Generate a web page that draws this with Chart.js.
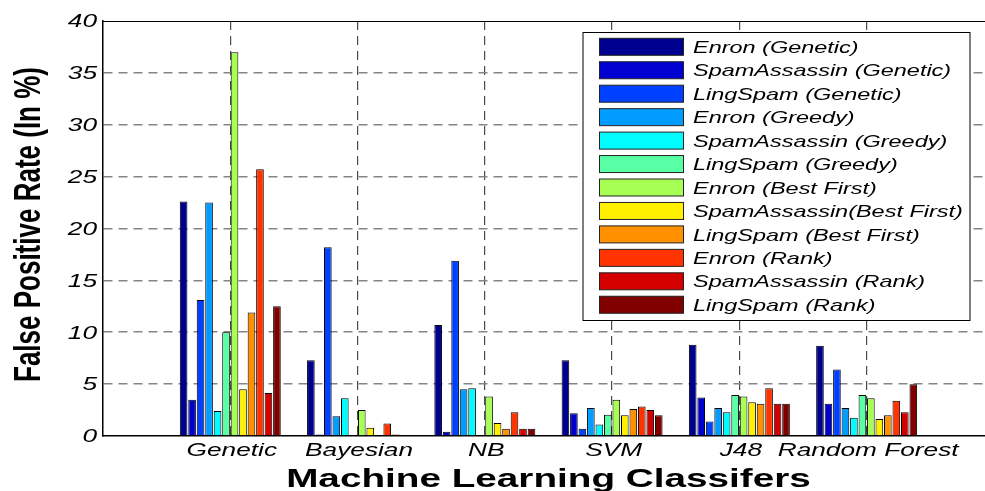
<!DOCTYPE html>
<html>
<head>
<meta charset="utf-8">
<title>False Positive Rate by Classifier</title>
<script src="https://cdn.jsdelivr.net/npm/chart.js@4/dist/chart.umd.min.js"></script>
<style>
  html, body { margin: 0; padding: 0; background: #fff; }
  #wrap { width: 985px; height: 491px; }
</style>
</head>
<body>
<div id="wrap"><canvas id="chart" width="985" height="491"></canvas></div>
<script>
// Classifiers on the x axis
const categories = ['Genetic', 'Bayesian', 'NB', 'SVM', 'J48', 'Random Forest'];

// y axis ticks (false positive rate, %)
const yTicks = [0, 5, 10, 15, 20, 25, 30, 35, 40];

// Series names (dataset + feature selection method)
const seriesNames = [
  'Enron (Genetic)', 'SpamAssassin (Genetic)', 'LingSpam (Genetic)',
  'Enron (Greedy)', 'SpamAssassin (Greedy)', 'LingSpam (Greedy)',
  'Enron (Best First)', 'SpamAssassin(Best First)', 'LingSpam (Best First)',
  'Enron (Rank)', 'SpamAssassin (Rank)', 'LingSpam (Rank)'
];

// False positive rate per classifier, one array per series
const enronGenetic        = [22.6, 7.3, 10.7, 7.3, 8.8, 8.7];
const spamAssassinGenetic = [3.5, 0.15, 0.4, 2.2, 3.7, 3.1];
const lingSpamGenetic     = [13.1, 18.2, 16.9, 0.7, 1.4, 6.4];
const enronGreedy         = [22.5, 1.9, 4.5, 2.7, 2.7, 2.7];
const spamAssassinGreedy  = [2.4, 3.65, 4.6, 1.1, 2.3, 1.75];
const lingSpamGreedy      = [10.0, 0, 0, 2.05, 3.95, 3.95];
const enronBestFirst      = [37.0, 2.5, 3.8, 3.5, 3.8, 3.65];
const spamAssassinBestFirst = [4.5, 0.8, 1.25, 2.0, 3.25, 1.65];
const lingSpamBestFirst   = [11.9, 0, 0.7, 2.6, 3.1, 2.0];
const enronRank           = [25.7, 1.2, 2.3, 2.85, 4.6, 3.4];
const spamAssassinRank    = [4.15, 0.15, 0.7, 2.5, 3.1, 2.3];
const lingSpamRank        = [12.5, 0, 0.7, 2.0, 3.1, 5.0];

const seriesValues = [
  enronGenetic, spamAssassinGenetic, lingSpamGenetic,
  enronGreedy, spamAssassinGreedy, lingSpamGreedy,
  enronBestFirst, spamAssassinBestFirst, lingSpamBestFirst,
  enronRank, spamAssassinRank, lingSpamRank
];

// jet-style palette, dark blue through dark red
const palette = [
  '#000090', '#0000D0', '#0040FF', '#009CFF', '#00FCFF', '#58FFA4',
  '#A8FF54', '#FFF000', '#FF9000', '#FF3400', '#D40000', '#800000'
];

const datasets = seriesNames.map((name, s) => ({
  label: name,
  data: seriesValues[s].map((v, i) => ({ x: i + 1, y: v })),
  backgroundColor: palette[s],
  borderColor: '#000000',
  borderWidth: 1,
  categoryPercentage: 0.8,
  barPercentage: 0.9
}));

// Draws text stretched horizontally by sx
function stretchedText(ctx, text, x, y, font, sx, align) {
  ctx.save();
  ctx.translate(x, y);
  ctx.scale(sx, 1);
  ctx.font = font;
  ctx.fillStyle = '#000';
  ctx.textAlign = align;
  ctx.textBaseline = 'alphabetic';
  ctx.fillText(text, 0, 0);
  ctx.restore();
}

const LABEL_FONT = 'italic 17.5px "Liberation Sans", Arial, sans-serif';
const TITLE_FONT = 'bold 26.5px "Liberation Sans", Arial, sans-serif';
const LEGEND_FONT = 'italic 17px "Liberation Sans", Arial, sans-serif';

const decorations = {
  id: 'decorations',
  afterDraw(chart) {
    const { ctx, chartArea, scales } = chart;
    const xs = scales.x, ys = scales.y;

    // top frame line
    ctx.save();
    ctx.strokeStyle = '#000';
    ctx.lineWidth = 1.2;
    ctx.beginPath();
    ctx.moveTo(chartArea.left, Math.round(chartArea.top) + 0.5);
    ctx.lineTo(chartArea.right, Math.round(chartArea.top) + 0.5);
    ctx.stroke();
    ctx.restore();

    // y tick labels
    yTicks.forEach(v => {
      const py = ys.getPixelForValue(v);
      stretchedText(ctx, String(v), 97, py + 6.3, LABEL_FONT, 1.5, 'right');
    });

    // category labels
    categories.forEach((c, i) => {
      const px = xs.getPixelForValue(i + 1);
      stretchedText(ctx, c, px + 1.5, 456, LABEL_FONT, 1.5, 'center');
    });

    // x axis title, centred on the full axis span
    stretchedText(ctx, 'Machine Learning Classifers', xs.getPixelForValue(3.5), 487,
      TITLE_FONT, 1.46, 'center');

    // y axis title (rotated, glyphs widened across the axis)
    ctx.save();
    ctx.translate(40, 224.5);
    ctx.rotate(-Math.PI / 2);
    ctx.scale(1, 1.42);
    ctx.font = 'bold 26px "Liberation Sans", Arial, sans-serif';
    ctx.fillStyle = '#000';
    ctx.textAlign = 'center';
    ctx.textBaseline = 'alphabetic';
    ctx.fillText('False Positive Rate (In %)', 0, 0);
    ctx.restore();

    // legend box
    const box = { left: 583, top: 32.5, right: 970, bottom: 320.5 };
    ctx.save();
    ctx.fillStyle = '#fff';
    ctx.fillRect(box.left, box.top, box.right - box.left, box.bottom - box.top);
    ctx.strokeStyle = '#000';
    ctx.lineWidth = 1;
    ctx.strokeRect(box.left, box.top, box.right - box.left, box.bottom - box.top);
    chart.data.datasets.forEach((ds, i) => {
      const cy = 46.8 + i * 23.45;
      ctx.fillStyle = ds.backgroundColor;
      ctx.fillRect(599, cy - 8.5, 84, 17);
      ctx.strokeStyle = '#222';
      ctx.lineWidth = 1;
      ctx.strokeRect(599.5, cy - 8.5, 84, 17);
      stretchedText(ctx, ds.label, 693, cy + 6.1, LEGEND_FONT, 1.38, 'left');
    });
    ctx.restore();
  }
};

new Chart(document.getElementById('chart'), {
  type: 'bar',
  data: { datasets },
  options: {
    responsive: false,
    animation: false,
    events: [],
    layout: { padding: { left: 103, top: 21, right: 0, bottom: 55 } },
    plugins: {
      legend: { display: false },
      tooltip: { enabled: false }
    },
    scales: {
      x: {
        type: 'linear',
        min: 0,
        max: 6.93,
        offset: false,
        ticks: { display: false, stepSize: 1, includeBounds: false },
        grid: {
          offset: false,
          drawTicks: false,
          lineWidth: 1.2,
          color: c => (c.tick && c.tick.value === 0 ? 'rgba(0,0,0,0)' : '#4a4a4a')
        },
        border: { display: true, color: '#000', width: 1.5, dash: [9, 6] }
      },
      y: {
        min: 0,
        max: 40,
        ticks: { display: false, stepSize: 5 },
        grid: {
          drawTicks: false,
          lineWidth: 1.6,
          color: c => (c.tick && (c.tick.value === 0 || c.tick.value === 40) ? 'rgba(0,0,0,0)' : '#858585')
        },
        border: { display: true, color: '#000', width: 1.5, dash: [9, 6] }
      }
    }
  },
  plugins: [decorations]
});
</script>
</body>
</html>
